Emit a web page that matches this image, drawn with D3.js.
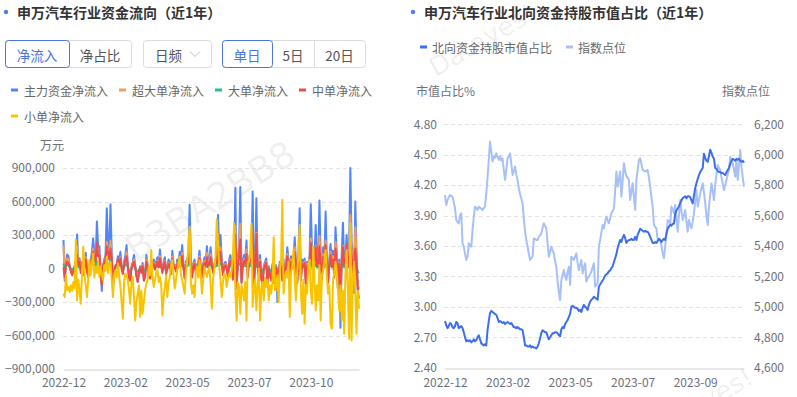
<!DOCTYPE html>
<html><head><meta charset="utf-8">
<script src="https://cdn.jsdelivr.net/npm/d3@7"></script>
<style>
body{margin:0;background:#fff;}
svg{display:block;font-family:"Noto Sans CJK SC","Noto Sans",sans-serif;}
</style>
</head><body>
<svg id="c" width="797" height="397"></svg>
<script>
// ---------- data: left chart (资金流向, 万元) ----------
const flowSeriesNames = ["主力资金净流入","超大单净流入","大单净流入","中单净流入","小单净流入"];
const flowTickIndex = [0,50,100,150,200];
const flowTickLabels = ["2022-12","2023-02","2023-05","2023-07","2023-10"];
const flowYTicks = [-900000,-600000,-300000,0,300000,600000,900000];

const mainNet = [255e3,-110e3,60e3,125e3,110e3,20e3,-20e3,-50e3,-30e3,10e3,
80e3,305e3,40e3,90e3,-20e3,60e3,-40e3,30e3,140e3,-10e3,
-60e3,40e3,70e3,150e3,270e3,120e3,60e3,420e3,190e3,200e3,
-20e3,-200e3,30e3,80e3,120e3,540e3,240e3,130e3,575e3,150e3,
-160e3,-60e3,30e3,40e3,110e3,60e3,150e3,20e3,-40e3,60e3,
120e3,210e3,40e3,-80e3,-100e3,20e3,60e3,120e3,30e3,-60e3,
-120e3,-40e3,20e3,-20e3,50e3,-100e3,-60e3,120e3,40e3,-50e3,
-80e3,-30e3,40e3,80e3,10e3,60e3,100e3,30e3,170e3,40e3,
-20e3,60e3,100e3,-40e3,20e3,80e3,50e3,-30e3,160e3,40e3,
30e3,-10e3,80e3,40e3,150e3,70e3,210e3,30e3,-80e3,60e3,
80e3,120e3,570e3,100e3,-60e3,40e3,80e3,-20e3,30e3,60e3,
160e3,20e3,-60e3,40e3,100e3,50e3,200e3,30e3,90e3,190e3,
60e3,-20e3,40e3,80e3,100e3,480e3,120e3,300e3,80e3,-40e3,
40e3,60e3,20e3,-60e3,80e3,120e3,40e3,-80e3,100e3,720e3,
-180e3,80e3,200e3,730e3,-120e3,60e3,120e3,80e3,250e3,-60e3,
90e3,140e3,80e3,690e3,-140e3,60e3,630e3,30e3,-60e3,120e3,
-80e3,-140e3,20e3,60e3,90e3,-160e3,20e3,-40e3,-90e3,40e3,
-120e3,-40e3,30e3,-300e3,-20e3,60e3,40e3,-100e3,80e3,-60e3,
40e3,190e3,80e3,-80e3,110e3,20e3,60e3,280e3,60e3,-130e3,
120e3,540e3,-100e3,80e3,40e3,90e3,-140e3,60e3,30e3,100e3,
575e3,150e3,-60e3,120e3,390e3,60e3,40e3,610e3,100e3,-80e3,
190e3,70e3,510e3,60e3,-120e3,80e3,220e3,40e3,160e3,-60e3,
370e3,140e3,-200e3,80e3,-530e3,120e3,410e3,60e3,90e3,300e3,
40e3,180e3,900e3,250e3,100e3,-220e3,600e3,140e3,-200e3,-270e3];

const superNet = [210e3,-90e3,40e3,90e3,80e3,10e3,-20e3,-40e3,-30e3,0,
60e3,200e3,30e3,70e3,-20e3,40e3,-30e3,20e3,100e3,-10e3,
-50e3,30e3,50e3,100e3,180e3,80e3,40e3,230e3,140e3,130e3,
-20e3,-150e3,20e3,60e3,90e3,240e3,160e3,90e3,250e3,100e3,
-120e3,-40e3,20e3,30e3,80e3,40e3,100e3,10e3,-30e3,40e3,
80e3,150e3,30e3,-60e3,-70e3,10e3,40e3,80e3,20e3,-40e3,
-90e3,-30e3,10e3,-20e3,30e3,-70e3,-40e3,80e3,30e3,-40e3,
-60e3,-20e3,30e3,50e3,10e3,40e3,70e3,20e3,110e3,30e3,
-20e3,40e3,70e3,-30e3,10e3,50e3,30e3,-20e3,110e3,30e3,
20e3,-10e3,50e3,30e3,100e3,50e3,140e3,20e3,-60e3,40e3,
60e3,80e3,330e3,70e3,-40e3,30e3,50e3,-20e3,20e3,40e3,
110e3,10e3,-40e3,30e3,70e3,30e3,140e3,20e3,60e3,130e3,
40e3,-20e3,30e3,50e3,70e3,300e3,80e3,190e3,50e3,-30e3,
30e3,40e3,10e3,-40e3,50e3,80e3,30e3,-60e3,70e3,380e3,
-130e3,50e3,140e3,400e3,-90e3,40e3,80e3,50e3,170e3,-40e3,
60e3,100e3,50e3,320e3,-100e3,40e3,320e3,20e3,-40e3,80e3,
-60e3,-100e3,10e3,40e3,60e3,-110e3,10e3,-30e3,-60e3,30e3,
-80e3,-30e3,20e3,-200e3,-20e3,40e3,30e3,-70e3,50e3,-40e3,
30e3,130e3,50e3,-60e3,80e3,10e3,40e3,190e3,40e3,-90e3,
80e3,280e3,-70e3,50e3,30e3,60e3,-100e3,40e3,20e3,70e3,
270e3,100e3,-40e3,80e3,200e3,40e3,30e3,290e3,70e3,-60e3,
130e3,50e3,250e3,40e3,-90e3,50e3,150e3,30e3,110e3,-40e3,
240e3,100e3,-150e3,50e3,-380e3,80e3,200e3,40e3,60e3,200e3,
30e3,120e3,480e3,170e3,70e3,-160e3,370e3,90e3,-150e3,-180e3];

const largeNet = [45e3,-20e3,20e3,35e3,30e3,10e3,0,-10e3,0,10e3,
20e3,60e3,10e3,20e3,0,20e3,-10e3,10e3,40e3,0,
-10e3,10e3,20e3,50e3,60e3,40e3,20e3,60e3,50e3,40e3,
0,-50e3,10e3,20e3,30e3,70e3,40e3,30e3,80e3,40e3,
-40e3,-20e3,10e3,10e3,30e3,20e3,40e3,10e3,-10e3,20e3,
30e3,40e3,10e3,-20e3,-30e3,0,20e3,30e3,10e3,-20e3,
-30e3,-10e3,0,-10e3,10e3,-30e3,-20e3,30e3,10e3,-10e3,
-20e3,-10e3,10e3,20e3,0,20e3,20e3,10e3,40e3,10e3,
0,10e3,20e3,-10e3,0,20e3,10e3,-10e3,30e3,10e3,
10e3,0,20e3,10e3,30e3,20e3,40e3,10e3,-20e3,10e3,
20e3,30e3,60e3,20e3,-20e3,10e3,20e3,0,10e3,20e3,
30e3,0,-10e3,10e3,20e3,10e3,40e3,10e3,20e3,40e3,
10e3,0,10e3,20e3,20e3,60e3,30e3,50e3,20e3,-10e3,
10e3,20e3,0,-20e3,20e3,30e3,10e3,-20e3,30e3,50e3,
-40e3,20e3,40e3,50e3,-30e3,10e3,30e3,20e3,40e3,-10e3,
20e3,30e3,20e3,50e3,-30e3,10e3,50e3,10e3,-10e3,20e3,
-20e3,-40e3,0,10e3,20e3,-40e3,0,-10e3,-30e3,10e3,
-30e3,-10e3,10e3,-60e3,0,10e3,10e3,-20e3,20e3,-10e3,
10e3,30e3,10e3,-20e3,20e3,0,10e3,40e3,10e3,-30e3,
20e3,50e3,-20e3,10e3,10e3,20e3,-30e3,10e3,0,20e3,
50e3,30e3,-10e3,20e3,40e3,10e3,10e3,50e3,20e3,-20e3,
30e3,10e3,50e3,10e3,-30e3,20e3,40e3,10e3,30e3,-10e3,
40e3,20e3,-40e3,10e3,-60e3,20e3,40e3,10e3,20e3,40e3,
10e3,30e3,60e3,30e3,20e3,-30e3,50e3,20e3,-30e3,-40e3];

const mediumNet = [10e3,-80e3,40e3,60e3,50e3,20e3,-30e3,-60e3,-20e3,20e3,
40e3,120e3,30e3,60e3,-40e3,40e3,-60e3,20e3,80e3,-30e3,
-80e3,20e3,50e3,90e3,150e3,80e3,60e3,230e3,110e3,120e3,
-40e3,-150e3,20e3,50e3,80e3,200e3,140e3,80e3,180e3,90e3,
-110e3,-60e3,20e3,30e3,80e3,40e3,90e3,0,-50e3,30e3,
70e3,110e3,20e3,-90e3,-110e3,0,30e3,60e3,10e3,-70e3,
-120e3,-40e3,10e3,-40e3,20e3,-110e3,-80e3,60e3,20e3,-60e3,
-90e3,-40e3,20e3,40e3,-10e3,30e3,60e3,10e3,90e3,20e3,
-40e3,30e3,60e3,-50e3,0,40e3,20e3,-50e3,90e3,20e3,
10e3,-30e3,40e3,20e3,80e3,30e3,110e3,10e3,-90e3,30e3,
40e3,60e3,180e3,50e3,-80e3,20e3,40e3,-40e3,10e3,30e3,
90e3,0,-80e3,20e3,50e3,20e3,100e3,10e3,40e3,100e3,
30e3,-40e3,20e3,40e3,50e3,200e3,70e3,150e3,40e3,-60e3,
20e3,30e3,0,-80e3,40e3,70e3,20e3,-100e3,50e3,300e3,
-160e3,40e3,100e3,260e3,-130e3,30e3,70e3,40e3,130e3,-80e3,
50e3,80e3,40e3,320e3,-150e3,30e3,310e3,10e3,-80e3,60e3,
-100e3,-140e3,0,30e3,50e3,-150e3,0,-60e3,-110e3,20e3,
-130e3,-60e3,10e3,-180e3,-30e3,30e3,20e3,-110e3,40e3,-70e3,
20e3,110e3,40e3,-100e3,60e3,0,30e3,150e3,30e3,-130e3,
60e3,220e3,-110e3,40e3,20e3,50e3,-140e3,30e3,10e3,60e3,
230e3,80e3,-80e3,60e3,190e3,30e3,20e3,200e3,50e3,-100e3,
100e3,30e3,210e3,30e3,-130e3,40e3,120e3,20e3,80e3,-80e3,
180e3,70e3,-180e3,40e3,-200e3,60e3,190e3,30e3,40e3,210e3,
10e3,90e3,200e3,110e3,50e3,-170e3,180e3,60e3,-180e3,-190e3];

const smallNet = [-225e3,-255e3,-60e3,-195e3,-165e3,-210e3,-150e3,-200e3,-120e3,-180e3,
255e3,-285e3,-100e3,-200e3,-315e3,-40e3,195e3,-60e3,-150e3,-255e3,
-100e3,75e3,-60e3,40e3,135e3,-80e3,15e3,-40e3,60e3,-75e3,
20e3,-60e3,-105e3,30e3,-20e3,105e3,-40e3,45e3,60e3,-100e3,
-255e3,-60e3,-15e3,-80e3,45e3,-60e3,-165e3,-300e3,-450e3,-120e3,
-45e3,-60e3,-105e3,-200e3,-315e3,-120e3,-75e3,-250e3,-465e3,-300e3,
-225e3,-150e3,-435e3,-200e3,-405e3,-300e3,-195e3,-140e3,-105e3,20e3,
-60e3,165e3,-80e3,-165e3,-100e3,-40e3,-15e3,-120e3,-75e3,-150e3,
-420e3,-250e3,-165e3,-60e3,-255e3,-120e3,-75e3,20e3,75e3,-60e3,
-180e3,-100e3,-15e3,40e3,105e3,-60e3,-105e3,-160e3,-225e3,-40e3,
60e3,180e3,375e3,-120e3,-225e3,-150e3,-255e3,-40e3,15e3,-80e3,
75e3,-60e3,-225e3,-100e3,15e3,-40e3,-75e3,-20e3,15e3,-150e3,
-360e3,-80e3,-15e3,120e3,440e3,200e3,15e3,-100e3,-255e3,-120e3,
-45e3,-60e3,-165e3,-90e3,-45e3,-80e3,-15e3,120e3,405e3,-200e3,
-465e3,-120e3,-165e3,-405e3,-150e3,-200e3,-285e3,-120e3,-465e3,60e3,
60e3,150e3,400e3,-345e3,-180e3,-100e3,-375e3,-160e3,0,-465e3,
-195e3,-120e3,-285e3,-80e3,-165e3,-100e3,-285e3,-150e3,-225e3,-120e3,
280e3,-195e3,-165e3,-60e3,-300e3,-15e3,80e3,615e3,-225e3,-100e3,
-30e3,-80e3,60e3,-435e3,-40e3,20e3,165e3,-100e3,-285e3,-30e3,
100e3,390e3,-200e3,-405e3,-100e3,-495e3,-150e3,-225e3,40e3,75e3,
-200e3,-315e3,195e3,-100e3,-375e3,-150e3,-285e3,30e3,-465e3,-60e3,
-20e3,80e3,165e3,-80e3,-225e3,-150e3,-495e3,-540e3,-100e3,-40e3,
60e3,-30e3,-200e3,-375e3,-150e3,-465e3,-200e3,-585e3,-60e3,165e3,
-200e3,-630e3,400e3,-645e3,-100e3,60e3,-200e3,-585e3,-200e3,-360e3];

// ---------- data: right chart (北向资金持股市值占比) ----------
const holdSeriesNames = ["北向资金持股市值占比","指数点位"];
const holdTickIndex = [0,50,100,150,200];
const holdTickLabels = ["2022-12","2023-02","2023-05","2023-07","2023-09"];
const holdPctTicks = [2.4,2.7,3.0,3.3,3.6,3.9,4.2,4.5,4.8];
const indexTicks = [4600,4800,5000,5200,5400,5600,5800,6000,6200];

const northPct = [2.86,2.82,2.79,2.81,2.84,2.83,2.80,2.79,2.81,2.85,
2.84,2.79,2.80,2.81,2.79,2.75,2.70,2.66,2.67,2.66,
2.67,2.65,2.66,2.68,2.66,2.67,2.70,2.72,2.68,2.64,
2.63,2.62,2.63,2.62,2.77,2.86,2.94,2.96,2.95,2.94,
2.93,2.92,2.89,2.85,2.86,2.85,2.84,2.85,2.83,2.84,
2.85,2.84,2.83,2.84,2.82,2.80,2.80,2.79,2.80,2.79,
2.78,2.78,2.77,2.70,2.62,2.62,2.61,2.61,2.62,2.60,
2.61,2.60,2.60,2.59,2.61,2.64,2.69,2.74,2.77,2.76,
2.75,2.75,2.71,2.68,2.70,2.72,2.74,2.74,2.75,2.75,
2.74,2.72,2.71,2.78,2.80,2.79,2.83,2.85,2.87,2.90,
2.93,3.00,3.01,3.00,2.99,2.99,2.98,2.96,2.97,2.95,
2.99,3.02,3.00,2.99,2.97,3.02,3.05,3.07,3.08,3.10,
3.09,3.08,3.07,3.20,3.22,3.24,3.26,3.28,3.31,3.32,
3.33,3.35,3.36,3.38,3.40,3.44,3.48,3.52,3.58,3.62,
3.66,3.64,3.68,3.71,3.68,3.63,3.65,3.66,3.66,3.67,
3.66,3.66,3.69,3.66,3.71,3.74,3.77,3.76,3.75,3.74,
3.75,3.74,3.74,3.72,3.69,3.66,3.63,3.63,3.64,3.63,
3.65,3.67,3.66,3.64,3.66,3.67,3.66,3.72,3.77,3.79,
3.81,3.80,3.82,3.82,3.92,3.95,3.97,3.99,4.02,4.05,
4.07,4.08,4.09,4.07,4.09,4.09,4.08,4.05,4.02,4.10,
4.17,4.22,4.26,4.30,4.33,4.35,4.37,4.51,4.47,4.44,
4.43,4.49,4.55,4.52,4.48,4.46,4.37,4.36,4.34,4.33,
4.33,4.32,4.32,4.31,4.30,4.33,4.35,4.37,4.41,4.44,
4.46,4.45,4.44,4.46,4.45,4.46,4.44,4.43,4.44,4.42];

const indexLevel = [5735,5670,5702,5720,5735,5730,5724,5690,5648,5571,
5560,5549,5600,5615,5418,5396,5350,5308,5330,5418,
5400,5396,5505,5590,5659,5650,5637,5659,5650,5645,
5637,5650,5659,5746,5850,5966,6086,6020,5955,5990,
5980,6009,5985,5966,5990,5960,5976,5900,5834,5900,
5976,5990,6009,5940,5867,5890,5922,5870,5834,5780,
5740,5713,5680,5580,5494,5440,5396,5350,5308,5320,
5330,5450,5445,5440,5439,5460,5470,5483,5520,5549,
5530,5516,5418,5330,5360,5396,5370,5352,5300,5264,
5166,5100,5045,5177,5210,5242,5200,5177,5230,5264,
5144,5330,5320,5308,5330,5352,5290,5242,5280,5308,
5220,5260,5286,5166,5190,5198,5215,5231,5260,5286,
5133,5145,5155,5396,5439,5490,5538,5516,5560,5593,
5570,5549,5580,5615,5630,5648,5760,5889,5790,5840,
5889,5724,5830,5944,5889,5860,5850,5834,5702,5760,
5812,5720,5637,5834,5900,5966,5976,5940,5900,5895,
5889,5895,5900,5850,5790,5720,5659,5538,5525,5516,
5439,5445,5439,5400,5352,5319,5396,5480,5571,5560,
5549,5659,5640,5615,5670,5580,5494,5600,5702,5630,
5571,5600,5637,5560,5494,5571,5540,5516,5560,5615,
5690,5768,5659,5700,5746,5780,5812,5750,5681,5600,
5538,5659,5740,5812,5760,5702,5801,5870,5933,5915,
5900,5850,5812,5768,5800,5834,5870,5900,5987,5960,
5944,5900,5856,5966,5834,5930,6031,5922,5850,5790];

// ---------- drawing ----------
const svg = d3.select("#c");
const AXIS_TXT = "#6e7079";
const GRID = "#e3e3e3";

// watermarks
svg.append("text").attr("transform","translate(210,201) rotate(-32)")
  .attr("text-anchor","middle").attr("dominant-baseline","central")
  .style("font-family","'DejaVu Sans',sans-serif").style("font-size","36px")
  .attr("fill","#000").attr("fill-opacity",0.07).text("B3BA2BB8");
svg.append("text").attr("transform","translate(482,40) rotate(-30)")
  .attr("text-anchor","middle").attr("dominant-baseline","central")
  .style("font-family","'DejaVu Sans',sans-serif").style("font-size","26px")
  .attr("fill","#000").attr("fill-opacity",0.07).text("Datayes!");
svg.append("text").attr("transform","translate(700,404) rotate(-30)")
  .attr("text-anchor","middle").attr("dominant-baseline","central")
  .style("font-family","'DejaVu Sans',sans-serif").style("font-size","26px")
  .attr("fill","#000").attr("fill-opacity",0.07).text("Datayes!");

function title(x, txt){
  svg.append("circle").attr("cx",x).attr("cy",12).attr("r",2.2).attr("fill","#4d7df0");
  svg.append("text").attr("x",x+11).attr("y",12).attr("dominant-baseline","central")
    .style("font-size","14px").style("font-weight","bold").attr("fill","#333").text(txt);
}
title(6,"申万汽车行业资金流向（近1年）");
title(413,"申万汽车行业北向资金持股市值占比（近1年）");

// buttons
const BLUE_BTN = "#4b74dc";
function btnGroup(x, widths, labels, sel){
  let cx = x;
  const total = d3.sum(widths);
  svg.append("rect").attr("x",x+0.5).attr("y",40.5).attr("width",total).attr("height",27)
    .attr("rx",3).attr("fill","#fff").attr("stroke","#dcdcdc");
  widths.forEach((w,i)=>{
    if(i>0 && i!==sel && i-1!==sel){
      svg.append("line").attr("x1",cx+0.5).attr("x2",cx+0.5).attr("y1",41).attr("y2",67).attr("stroke","#dcdcdc");
    }
    svg.append("text").attr("x",cx+w/2).attr("y",54.5).attr("text-anchor","middle")
      .attr("dominant-baseline","central").style("font-size","13.5px")
      .attr("fill", i===sel ? BLUE_BTN : "#555").text(labels[i]);
    if(i===sel){
      svg.append("rect").attr("x",cx+0.5).attr("y",40.5).attr("width",w).attr("height",27)
        .attr("rx",3).attr("fill","none").attr("stroke",BLUE_BTN);
    }
    cx += w;
  });
}
btnGroup(5,[64,62],["净流入","净占比"],0);
btnGroup(222,[50,42,51],["单日","5日","20日"],0);
// dropdown
svg.append("rect").attr("x",143.5).attr("y",40.5).attr("width",68).attr("height",27)
  .attr("rx",3).attr("fill","#fff").attr("stroke","#dcdcdc");
svg.append("text").attr("x",155).attr("y",54.5).attr("dominant-baseline","central")
  .style("font-size","13.5px").attr("fill","#555").text("日频");
svg.append("path").attr("d","M190,51.5 L195,56.5 L200,51.5").attr("fill","none").attr("stroke","#bbb").attr("stroke-width",1);

// ---------- left chart ----------
const flowColors = ["#5285f6","#f79d52","#22c0a0","#ef4b4b","#f8c400"];
const flowSeries = [mainNet, superNet, largeNet, mediumNet, smallNet];
const lx = d3.scaleLinear().domain([0, mainNet.length-1]).range([63.5, 359]);
const ly = d3.scaleLinear().domain([-900000, 900000]).range([369, 168]);

// legend
const legPos = [[11,90],[119,90],[215,90],[299,90],[11,116]];
flowSeriesNames.forEach((n,i)=>{
  const [px,py] = legPos[i];
  svg.append("line").attr("x1",px).attr("x2",px+7).attr("y1",py).attr("y2",py)
    .attr("stroke",flowColors[i]).attr("stroke-width",3);
  svg.append("text").attr("x",px+13).attr("y",py).attr("dominant-baseline","central")
    .style("font-size","12px").attr("fill","#666").text(n);
});
svg.append("text").attr("x",52).attr("y",144).attr("text-anchor","middle").attr("dominant-baseline","central")
  .style("font-size","12px").attr("fill",AXIS_TXT).text("万元");

// grid
const lg = svg.append("g");
flowYTicks.forEach(t=>{
  if(t===-900000) return;
  lg.append("line").attr("x1",63).attr("x2",359).attr("y1",Math.round(ly(t))+0.5).attr("y2",Math.round(ly(t))+0.5)
    .attr("stroke",GRID).attr("stroke-dasharray","4,3");
});
const lyAxis = svg.append("g").attr("transform","translate(55,0)")
  .call(d3.axisLeft(ly).tickValues(flowYTicks).tickFormat(d3.format(",")).tickSize(0).tickPadding(0));
lyAxis.select(".domain").remove();
lyAxis.selectAll("text").style("font-size","12px").attr("fill",AXIS_TXT).style("font-family","'Noto Sans CJK SC',sans-serif");

const lxAxis = svg.append("g").attr("transform",`translate(0,${Math.round(ly(-900000))+0.5})`)
  .call(d3.axisBottom(lx).tickValues(flowTickIndex).tickFormat((d,i)=>flowTickLabels[i]).tickSize(0).tickPadding(9));
lxAxis.select(".domain").attr("stroke","#d0d0d0");
lxAxis.selectAll("text").style("font-size","12px").attr("fill",AXIS_TXT).style("font-family","'Noto Sans CJK SC',sans-serif");

flowSeries.forEach((s,i)=>{
  const line = d3.line().x((d,j)=>lx(j)).y(d=>ly(d));
  svg.append("path").attr("d",line(s)).attr("fill","none")
    .attr("stroke",flowColors[i]).attr("stroke-width",2).attr("stroke-linejoin","round");
});

// ---------- right chart ----------
const holdColors = ["#3e6ef0","#a8c0f8"];
const rx = d3.scaleLinear().domain([0, northPct.length-1]).range([445, 744]);
const ryL = d3.scaleLinear().domain([2.4, 4.8]).range([367.7, 124.3]);
const ryR = d3.scaleLinear().domain([4600, 6200]).range([367.7, 124.3]);

const rLegPos = [[420,47],[566,47]];
holdSeriesNames.forEach((n,i)=>{
  const [px,py] = rLegPos[i];
  svg.append("line").attr("x1",px).attr("x2",px+7).attr("y1",py).attr("y2",py)
    .attr("stroke",holdColors[i]).attr("stroke-width",3);
  svg.append("text").attr("x",px+12).attr("y",py).attr("dominant-baseline","central")
    .style("font-size","12px").attr("fill","#666").text(n);
});
svg.append("text").attr("x",416).attr("y",90).attr("dominant-baseline","central")
  .style("font-size","12px").attr("fill",AXIS_TXT).text("市值占比%");
svg.append("text").attr("x",770).attr("y",90).attr("text-anchor","end").attr("dominant-baseline","central")
  .style("font-size","12px").attr("fill",AXIS_TXT).text("指数点位");

holdPctTicks.forEach(t=>{
  if(t===2.4) return;
  svg.append("line").attr("x1",444).attr("x2",744).attr("y1",Math.round(ryL(t))+0.5).attr("y2",Math.round(ryL(t))+0.5)
    .attr("stroke",GRID).attr("stroke-dasharray","4,3");
});
const ryLAxis = svg.append("g").attr("transform","translate(437,0)")
  .call(d3.axisLeft(ryL).tickValues(holdPctTicks).tickFormat(d3.format(".2f")).tickSize(0).tickPadding(0));
ryLAxis.select(".domain").remove();
ryLAxis.selectAll("text").style("font-size","12px").attr("fill",AXIS_TXT).style("font-family","'Noto Sans CJK SC',sans-serif");
const ryRAxis = svg.append("g").attr("transform","translate(754,0)")
  .call(d3.axisRight(ryR).tickValues(indexTicks).tickFormat(d3.format(",")).tickSize(0).tickPadding(0));
ryRAxis.select(".domain").remove();
ryRAxis.selectAll("text").style("font-size","12px").attr("fill",AXIS_TXT).style("font-family","'Noto Sans CJK SC',sans-serif");

const rxAxis = svg.append("g").attr("transform",`translate(0,${Math.round(ryL(2.4))+0.5})`)
  .call(d3.axisBottom(rx).tickValues(holdTickIndex).tickFormat((d,i)=>holdTickLabels[i]).tickSize(0).tickPadding(9.5));
rxAxis.select(".domain").attr("stroke","#d0d0d0");
rxAxis.selectAll("text").style("font-size","12px").attr("fill",AXIS_TXT).style("font-family","'Noto Sans CJK SC',sans-serif");

svg.append("path").attr("d", d3.line().x((d,j)=>rx(j)).y(d=>ryR(d))(indexLevel))
  .attr("fill","none").attr("stroke",holdColors[1]).attr("stroke-width",2).attr("stroke-linejoin","round");
svg.append("path").attr("d", d3.line().x((d,j)=>rx(j)).y(d=>ryL(d))(northPct))
  .attr("fill","none").attr("stroke",holdColors[0]).attr("stroke-width",2).attr("stroke-linejoin","round");
</script>
</body></html>
